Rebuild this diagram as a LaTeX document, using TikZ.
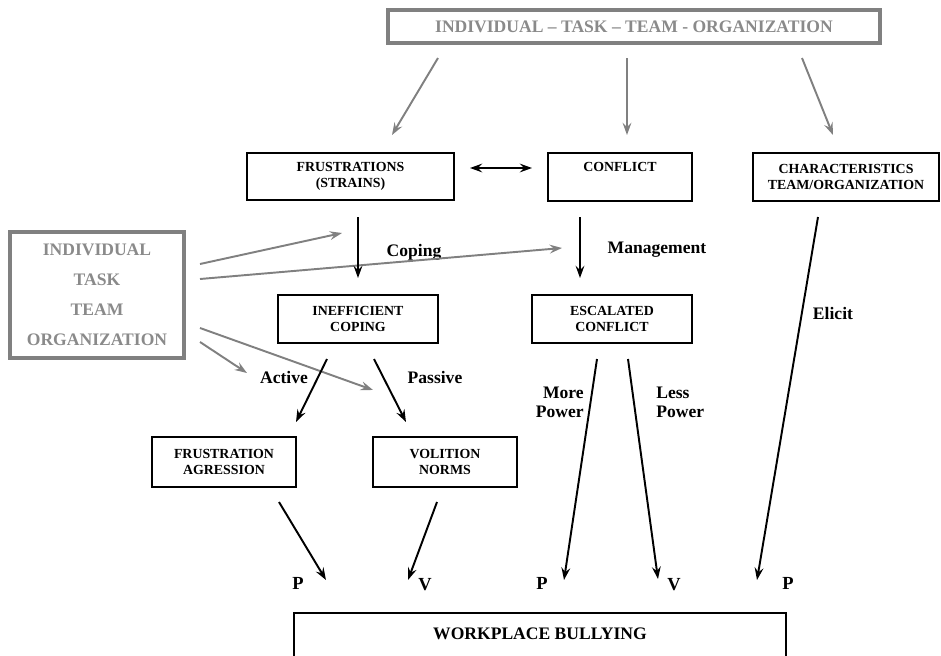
\documentclass[tikz,border=0pt]{standalone}
\usepackage{fontspec}
\setmainfont{Liberation Serif}
\usetikzlibrary{arrows.meta}
\definecolor{boxgray}{HTML}{808080}
\definecolor{textgray}{HTML}{8A8A8A}

\begin{document}
\begin{tikzpicture}[x=0.02cm,y=-0.02cm]
\tikzset{box/.style = {shape=rectangle,draw,line width=1.4pt,align=center,inner sep=0pt,font=\fontsize{7.9}{9.2}\selectfont\bfseries}}
\tikzset{graybox/.style = {box,draw=boxgray,line width=1.8pt,text=textgray,font=\fontsize{10}{17}\selectfont\bfseries}}
\tikzset{lbl/.style = {inner sep=0pt,font=\fontsize{10}{10.8}\selectfont\bfseries}}
\tikzset{letter/.style = {inner sep=0pt,font=\fontsize{10.5}{12}\selectfont\bfseries}}
\tikzset{tip/.tip = {Stealth[length=7pt,width=5pt,inset=2.5pt]}}
\tikzset{edge/.style = {-tip,line width=1.1pt}}
\tikzset{grayedge/.style = {edge,draw=boxgray}}
\useasboundingbox (0,0) rectangle (941,656);
\clip (0,0) rectangle (941,656);
% boxes
\node[graybox,minimum width=9.84cm,minimum height=0.66cm] (top) at (634,26.5) {INDIVIDUAL – TASK – TEAM - ORGANIZATION};
\node[graybox,minimum width=3.48cm,minimum height=2.52cm] (itto) at (97,295) {INDIVIDUAL\\TASK\\TEAM\\ORGANIZATION};
\node[box,minimum width=4.14cm,minimum height=0.94cm] (frus) at (350.5,176.5) {FRUSTRATIONS\\(STRAINS)};
\node[box,minimum width=2.88cm,minimum height=0.96cm] (conf) at (620,177) {CONFLICT\\\strut};
\node[box,minimum width=3.72cm,minimum height=0.96cm] (char) at (846,177) {CHARACTERISTICS\\TEAM/ORGANIZATION};
\node[box,minimum width=3.2cm,minimum height=0.96cm] (ineff) at (358,319) {INEFFICIENT\\COPING};
\node[box,minimum width=3.2cm,minimum height=0.96cm] (escal) at (612,319) {ESCALATED\\CONFLICT};
\node[box,minimum width=2.88cm,minimum height=1cm] (frag) at (224,462) {FRUSTRATION\\AGRESSION};
\node[box,minimum width=2.88cm,minimum height=1cm] (voln) at (445,462) {VOLITION\\NORMS};
\node[box,minimum width=9.84cm,anchor=north,text height=14.7pt,text depth=60pt,font=\fontsize{10}{12}\selectfont\bfseries] (wb) at (540,612) {WORKPLACE BULLYING};
% labels
\node[lbl] (coping) at (414,252) {Coping};
\node[lbl] (mgmt) at (657,250) {Management};
\node[lbl] (elicit) at (833,313) {Elicit};
\node[lbl] (active) at (284,377) {Active};
\node[lbl] (passive) at (435,377) {Passive};
\node[lbl,anchor=east,align=right] (more) at (584,402) {More\\Power};
\node[lbl,anchor=west,align=left] (less) at (656,402) {Less\\Power};
\node[letter] (p1) at (298,583) {P};
\node[letter] (v1) at (425,585) {V};
\node[letter] (p2) at (542,583) {P};
\node[letter] (v2) at (674,585) {V};
\node[letter] (p3) at (788,583) {P};
% arrow ends
\coordinate (top1) at (438,58);   \coordinate (frus-in) at (392,135);
\coordinate (top2) at (627,58);   \coordinate (conf-in) at (627,135);
\coordinate (top3) at (802,58);   \coordinate (char-in) at (833,135);
\coordinate (frus-r) at (470,168); \coordinate (conf-l) at (532,168);
\coordinate (frus-out) at (358,217); \coordinate (ineff-in) at (358,278);
\coordinate (conf-out) at (580,217); \coordinate (escal-in) at (580,278);
\coordinate (itto1) at (200,264); \coordinate (cop-in) at (342,233);
\coordinate (itto2) at (200,279); \coordinate (mgmt-in) at (562,248);
\coordinate (itto3) at (200,328); \coordinate (pas-in) at (373,390);
\coordinate (itto4) at (200,342); \coordinate (act-in) at (247,373);
\coordinate (ineff1) at (327,359); \coordinate (frag-in) at (296,422);
\coordinate (ineff2) at (374,359); \coordinate (voln-in) at (406,422);
\coordinate (escal1) at (597,359); \coordinate (p2-in) at (564,580);
\coordinate (escal2) at (628,359); \coordinate (v2-in) at (658,579);
\coordinate (char-out) at (818,217); \coordinate (p3-in) at (757,580);
\coordinate (frag-out) at (279,502); \coordinate (p1-in) at (326,580);
\coordinate (voln-out) at (437,502); \coordinate (v1-in) at (408,580);
% connectors
\draw[grayedge] (top1) to (frus-in);
\draw[grayedge] (top2) to (conf-in);
\draw[grayedge] (top3) to (char-in);
\draw[grayedge] (itto1) to (cop-in);
\draw[grayedge] (itto2) to (mgmt-in);
\draw[grayedge] (itto3) to (pas-in);
\draw[grayedge] (itto4) to (act-in);
\draw[edge,tip-tip] (frus-r) to (conf-l);
\draw[edge] (frus-out) to (ineff-in);
\draw[edge] (conf-out) to (escal-in);
\draw[edge] (ineff1) to (frag-in);
\draw[edge] (ineff2) to (voln-in);
\draw[edge] (escal1) to (p2-in);
\draw[edge] (escal2) to (v2-in);
\draw[edge] (char-out) to (p3-in);
\draw[edge] (frag-out) to (p1-in);
\draw[edge] (voln-out) to (v1-in);
\end{tikzpicture}
\end{document}
